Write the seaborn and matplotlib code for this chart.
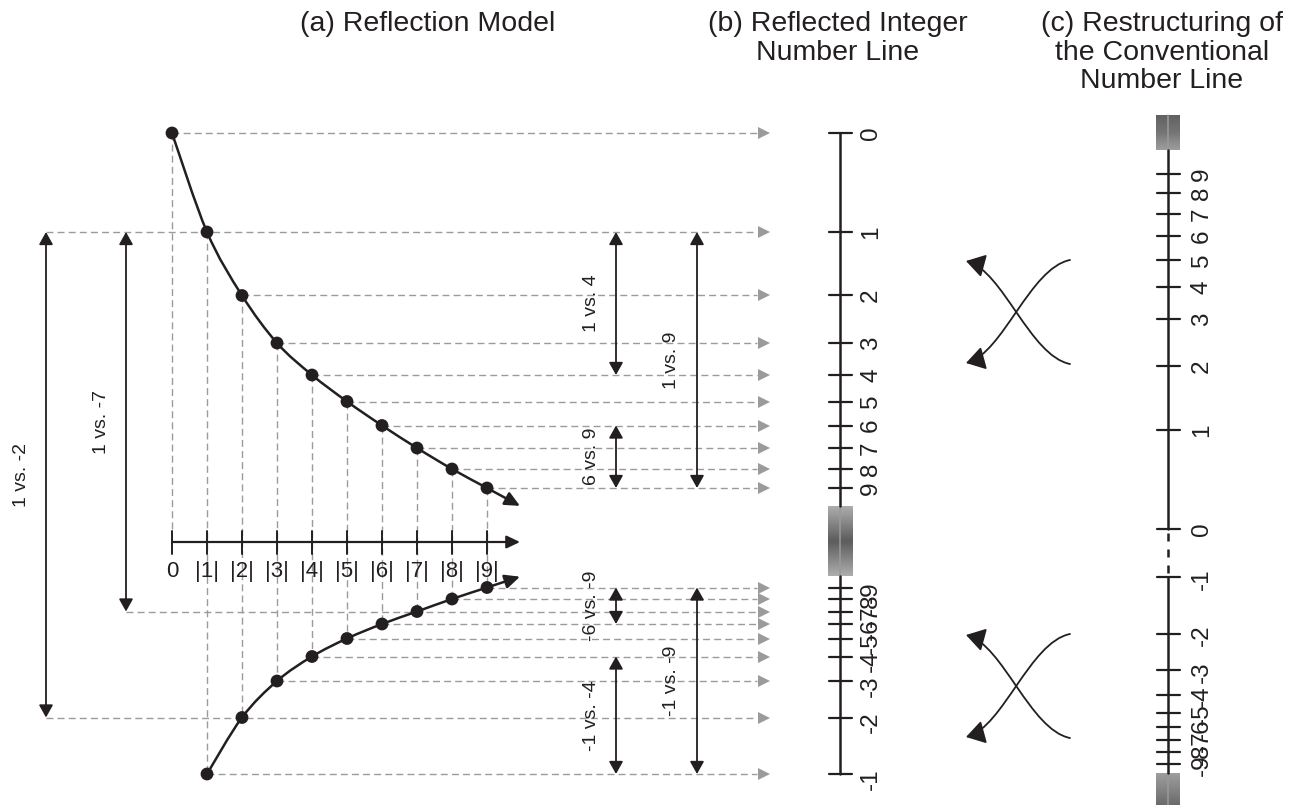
import numpy as np
import pandas as pd
import matplotlib
matplotlib.use("Agg")
import matplotlib.pyplot as plt
import seaborn as sns
from matplotlib.path import Path
from matplotlib.patches import FancyArrowPatch

# ---------------- data ----------------
pos_magnitudes = [0, 1, 2, 3, 4, 5, 6, 7, 8, 9]
# distance of +n from 0 on the reflected line (units of the diagram)
pos_reflected = [0.00, 0.99, 1.625, 2.10, 2.42, 2.685, 2.925, 3.15, 3.36, 3.55]
neg_magnitudes = [1, 2, 3, 4, 5, 6, 7, 8, 9]
# distance of -n from -1 on the reflected line
neg_reflected = [0.00, 0.565, 0.93, 1.175, 1.355, 1.50, 1.625, 1.75, 1.865]
magnitude_labels = ["0", "|1|", "|2|", "|3|", "|4|", "|5|", "|6|", "|7|", "|8|", "|9|"]
pos_tick_labels = ["0", "1", "2", "3", "4", "5", "6", "7", "8", "9"]
neg_tick_labels = ["-1", "-2", "-3", "-4", "-5", "-6", "-7", "-8", "-9"]
comparison_labels = ["1 vs. 4", "1 vs. 9", "6 vs. 9", "-6 vs. -9", "-1 vs. -4",
                     "-1 vs. -9", "1 vs. -2", "1 vs. -7"]
comparison_from = [1, 1, 6, -6, -1, -1, 1, 1]
comparison_to = [4, 9, 9, -9, -4, -9, -2, -7]
comparison_column = [2, 3, 2, 2, 2, 3, 0, 1]
titles = ["(a) Reflection Model",
          "(b) Reflected Integer\nNumber Line",
          "(c) Restructuring of\nthe Conventional\nNumber Line"]

# ---------------- layout (pixel space) ----------------
W, H = 1297, 805
INK = "#231f20"
GREY = "#9b9b9b"
FONT = ["Liberation Sans", "DejaVu Sans"]

A_X0, A_DX = 172, 35          # x of magnitude 0 and spacing in panel (a)
ZERO_Y, SCALE, NEG1_Y = 133, 100, 774
AXIS_Y = 542
COLUMNS = [46, 126, 616, 697]  # x of comparison arrows
DASH_END, HEAD_X = 757, 764
B_X = 840
C_X, C_ZERO_Y, C_NEG1_Y = 1168, 529, 577
TICK = 11.5
TITLE_X = [428, 838, 1162]
CROSS_CENTERS = [(1018, 312), (1018, 686)]

sns.set_theme(style="white")
plt.rcParams["font.family"] = FONT

fig = plt.figure(figsize=(W / 100, H / 100), dpi=100)
ax = fig.add_axes([0, 0, 1, 1])
ax.axis("off")


def y_of(v):
    if v >= 0:
        return ZERO_Y + SCALE * pos_reflected[v]
    return NEG1_Y - SCALE * neg_reflected[-v - 1]


def x_of(m):
    return A_X0 + A_DX * m


up_x = np.array([x_of(m) for m in pos_magnitudes], float)
up_y = np.array([y_of(m) for m in pos_magnitudes], float)
lo_x = np.array([x_of(m) for m in neg_magnitudes], float)
lo_y = np.array([y_of(-m) for m in neg_magnitudes], float)

dash = (0, (5, 3))

# ---------- horizontal guide lines with grey heads ----------
def guide(v, xstart):
    y = y_of(v)
    cols = [COLUMNS[c] for f, t, c in zip(comparison_from, comparison_to, comparison_column)
            if (f == v or t == v) and COLUMNS[c] < xstart]
    x0 = min([xstart] + cols)
    ax.plot([x0, DASH_END], [y, y], color=GREY, lw=1.0, ls=dash, zorder=1)
    ax.plot([HEAD_X], [y], marker=">", ms=8.5, color=GREY, mew=0, zorder=1)

for m in pos_magnitudes:
    guide(m, x_of(m))
for m in neg_magnitudes:
    guide(-m, x_of(m))

# vertical guide lines
for i, m in enumerate(pos_magnitudes):
    ybot = AXIS_Y - TICK if m == 0 else y_of(-m)
    ax.plot([x_of(m), x_of(m)], [up_y[i], ybot], color=GREY, lw=1.0, ls=dash, zorder=1)


# ---------- smooth curves with arrow ----------
def smooth_arrow(px, py, ext=33):
    pts = np.column_stack([px, py])
    d = pts[-1] - pts[-2]
    tip = pts[-1] + d / np.hypot(*d) * np.hypot(ext, ext * d[1] / d[0])
    n = len(pts)
    verts, codes = [pts[0]], [Path.MOVETO]
    for i in range(n - 1):
        p0 = pts[i - 1] if i > 0 else pts[i]
        p1, p2 = pts[i], pts[i + 1]
        p3 = pts[i + 2] if i + 2 < n else tip
        verts += [p1 + (p2 - p0) / 6, p2 - (p3 - p1) / 6, p2]
        codes += [Path.CURVE4] * 3
    verts.append(tip)
    codes.append(Path.LINETO)
    ax.add_patch(FancyArrowPatch(path=Path(np.array(verts), codes),
                                 arrowstyle="-|>,head_length=0.9,head_width=0.42",
                                 mutation_scale=10, lw=1.8, color=INK, zorder=3))

smooth_arrow(up_x, up_y)
smooth_arrow(lo_x, lo_y)

pts_df = pd.DataFrame({"x": np.r_[up_x, lo_x], "y": np.r_[up_y, lo_y]})
sns.scatterplot(data=pts_df, x="x", y="y", ax=ax, s=85, color=INK,
                edgecolor="none", zorder=4, legend=False)

# ---------- magnitude axis in (a) ----------
ax.add_patch(FancyArrowPatch((x_of(0), AXIS_Y), (x_of(9) + 33, AXIS_Y),
                             arrowstyle="-|>,head_length=0.8,head_width=0.38",
                             mutation_scale=10, lw=1.6, color=INK, shrinkA=0, shrinkB=0, zorder=3))
for m, lab in zip(pos_magnitudes, magnitude_labels):
    ax.plot([x_of(m)] * 2, [AXIS_Y - TICK, AXIS_Y + TICK], color=INK, lw=1.4, zorder=3)
    ax.text(x_of(m), AXIS_Y + 29, lab, ha="center", va="center", fontsize=16,
            color=INK, zorder=5)

# ---------- comparison arrows ----------
for lab, f, t, c in zip(comparison_labels, comparison_from, comparison_to, comparison_column):
    x = COLUMNS[c]
    y1, y2 = y_of(f), y_of(t)
    ax.add_patch(FancyArrowPatch((x, y1), (x, y2),
                                 arrowstyle="<|-|>,head_length=0.75,head_width=0.42",
                                 mutation_scale=10, lw=1.3, color=INK,
                                 shrinkA=0, shrinkB=0, zorder=3))
    ax.text(x - 25, (y1 + y2) / 2, lab, rotation=90, ha="center", va="center",
            fontsize=14, color=INK, zorder=5)


# ---------- gradient boxes ----------
def grad_box(xc, y0, y1, values, half=12.5):
    g = np.interp(np.linspace(0, 1, 200), np.linspace(0, 1, len(values)), values)[:, None]
    ax.imshow(g, cmap="gray", vmin=0, vmax=1, aspect="auto", interpolation="bilinear",
              extent=(xc - half, xc + half, y1, y0), origin="upper", zorder=2)
    ax.plot([xc, xc], [y0, y1], color="#9a9a9a", lw=1.1, zorder=2.5)

# ---------- panel (b) ----------
B_BOX = (506, 576)
ax.plot([B_X, B_X], [ZERO_Y, B_BOX[0]], color=INK, lw=1.8, zorder=3)
ax.plot([B_X, B_X], [B_BOX[1], NEG1_Y], color=INK, lw=1.8, zorder=3)
grad_box(B_X, B_BOX[0], B_BOX[1], [0.68, 0.52, 0.36, 0.52, 0.68])
for m, lab in zip(pos_magnitudes, pos_tick_labels):
    y = y_of(m)
    ax.plot([B_X - TICK, B_X + TICK], [y, y], color=INK, lw=1.6, zorder=3)
    ax.text(B_X + 31, y, lab, rotation=90, ha="center", va="center", fontsize=17.5,
            color=INK, zorder=5)
for m, lab in zip(neg_magnitudes, neg_tick_labels):
    y = y_of(-m)
    ax.plot([B_X - TICK, B_X + TICK], [y, y], color=INK, lw=1.6, zorder=3)
    ax.text(B_X + 31, y + 5, lab, rotation=90, ha="center", va="center", fontsize=17.5,
            color=INK, zorder=5)

# ---------- panel (c) ----------
C_TOP_BOX = (115, 150)
C_BOT_BOX = (773, 805)
ax.plot([C_X, C_X], [C_TOP_BOX[1], C_ZERO_Y], color=INK, lw=1.8, zorder=3)
ax.plot([C_X, C_X], [C_ZERO_Y + 4, C_NEG1_Y - 4], color=INK, lw=1.8,
        ls=(0, (3.2, 3.2)), solid_capstyle="butt", dash_capstyle="butt", zorder=3)
ax.plot([C_X, C_X], [C_NEG1_Y, C_BOT_BOX[0]], color=INK, lw=1.8, zorder=3)
grad_box(C_X, C_TOP_BOX[0], C_TOP_BOX[1], [0.38, 0.46, 0.62], half=12)
grad_box(C_X, C_BOT_BOX[0], C_BOT_BOX[1], [0.62, 0.52, 0.42], half=12)
for m, lab in zip(pos_magnitudes, pos_tick_labels):
    y = C_ZERO_Y - SCALE * pos_reflected[m]
    ax.plot([C_X - TICK, C_X + TICK], [y, y], color=INK, lw=1.6, zorder=3)
    ax.text(C_X + 34, y, lab, rotation=90, ha="center", va="center", fontsize=17.5,
            color=INK, zorder=5)
for m, lab in zip(neg_magnitudes, neg_tick_labels):
    y = C_NEG1_Y + SCALE * neg_reflected[m - 1]
    ax.plot([C_X - TICK, C_X + TICK], [y, y], color=INK, lw=1.6, zorder=3)
    ax.text(C_X + 34, y + 2, lab, rotation=90, ha="center", va="center", fontsize=17.5,
            color=INK, zorder=5)

# ---------- crossing arrows ----------
for cx, cy in CROSS_CENTERS:
    for s in (1, -1):
        P = [(cx + 52, cy - s * 52), (cx + 12, cy - s * 44),
             (cx - 15, cy + s * 41), (cx - 52, cy + s * 51)]
        path = Path(P, [Path.MOVETO, Path.CURVE4, Path.CURVE4, Path.CURVE4])
        ax.add_patch(FancyArrowPatch(path=path,
                                     arrowstyle="-|>,head_length=1.15,head_width=0.72",
                                     mutation_scale=10, lw=1.3, color=INK, zorder=3))

# ---------- titles ----------
for tx, t in zip(TITLE_X, titles):
    ax.text(tx, 11, t, ha="center", va="top", fontsize=20.5, color=INK,
            linespacing=1.13, zorder=5)

ax.set_xlim(0, W)
ax.set_ylim(H, 0)
fig.savefig("out.png", dpi=100, facecolor="white")
